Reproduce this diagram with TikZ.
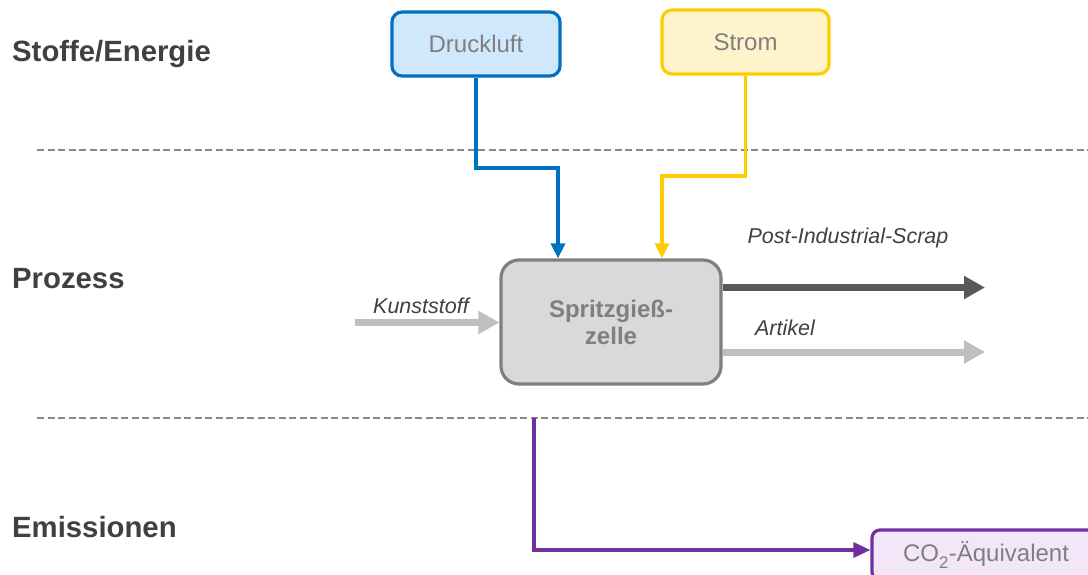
\documentclass[tikz,border=0pt]{standalone}
\usepackage{fontspec}
\setmainfont{Liberation Sans}
\usetikzlibrary{arrows.meta}

\definecolor{txtgray}{HTML}{7F7F7F}
\definecolor{txtdark}{HTML}{404040}
\definecolor{sepgray}{HTML}{898989}
\definecolor{airblue}{HTML}{0070C0}
\definecolor{airfill}{HTML}{CFE8FC}
\definecolor{powyellow}{HTML}{FFCC00}
\definecolor{powfill}{HTML}{FFF3CC}
\definecolor{procfill}{HTML}{D9D9D9}
\definecolor{procline}{HTML}{7F7F7F}
\definecolor{scrapgray}{HTML}{595959}
\definecolor{flowgray}{HTML}{BFBFBF}
\definecolor{emipurple}{HTML}{7030A0}
\definecolor{emifill}{HTML}{F3E6F8}

\tikzset{
  rowlabel/.style={anchor=base west, inner sep=0pt, text=txtdark,
    font=\fontsize{29.3}{33}\selectfont\bfseries},
  flowlabel/.style={inner sep=0pt, text=txtdark,
    font=\fontsize{21.5}{25}\selectfont\itshape},
  inputbox/.style={rectangle, rounded corners=10pt, line width=3.2pt,
    minimum width=168pt, minimum height=64pt, text=txtgray,
    font=\fontsize{24}{28}\selectfont},
  separator/.style={draw=sepgray, line width=2pt, dash pattern=on 7pt off 3.5pt},
  feed/.style={line width=3.4pt, -{Triangle[length=15pt,width=14pt]}},
  bigflow/.style={line width=7pt, -{Triangle[length=21pt,width=22pt]}}
}

\begin{document}
\begin{tikzpicture}[x=1pt,y=-1pt]
\useasboundingbox (0,0) rectangle (1088,575);

% row labels
\node[rowlabel] (lblStoffe) at (12,62) {Stoffe/Energie};
\node[rowlabel] (lblProzess) at (12,288.5) {Prozess};
\node[rowlabel] (lblEmi) at (12,537.5) {Emissionen};

% row separators
\coordinate (sepA0) at (37,150);
\coordinate (sepA1) at (1088,150);
\coordinate (sepB0) at (37,418);
\coordinate (sepB1) at (1088,418);
\draw[separator] (sepA0) -- (sepA1);
\draw[separator] (sepB0) -- (sepB1);

% inputs
\node[inputbox, draw=airblue, fill=airfill] (druck) at (476,44) {Druckluft};
\node[inputbox, draw=powyellow, fill=powfill, minimum width=167pt] (strom) at (745.5,42) {Strom};

% process cell
\node[rectangle, rounded corners=18pt, line width=3.2pt, draw=procline, fill=procfill,
      minimum width=220pt, minimum height=124pt, text=txtgray, align=center,
      font=\fontsize{24}{27}\selectfont\bfseries] (proc) at (611,322)
      {Spritzgieß-\\zelle};

% emission target
\node[rectangle, rounded corners=8pt, line width=3.2pt, draw=emipurple, fill=emifill,
      minimum width=228pt, minimum height=50pt, text=txtgray,
      font=\fontsize{24}{28}\selectfont] (co2) at (986,555)
      {CO\raisebox{-0.3ex}{\textsubscript{2}}-Äquivalent};

% supply lines into the cell
\coordinate (airBend) at (558,168);
\coordinate (powBend) at (662,176);
\draw[feed, draw=airblue] (druck.south) |- (airBend) -- (airBend |- proc.north);
\draw[feed, draw=powyellow] (strom.south) |- (powBend) -- (powBend |- proc.north);

% material flows
\coordinate (kunstIn) at (355,322.5);
\coordinate (scrapOut) at (985,287.5);
\coordinate (artOut) at (985,352);
\draw[bigflow, draw=flowgray] (kunstIn) -- (kunstIn -| proc.west);
\draw[bigflow, draw=scrapgray] (scrapOut -| proc.east) -- (scrapOut);
\draw[bigflow, draw=flowgray] (artOut -| proc.east) -- (artOut);

\node[flowlabel] (lblKunst) at (421,306) {Kunststoff};
\node[flowlabel] (lblScrap) at (848,238) {Post-Industrial-Scrap};
\node[flowlabel] (lblArt) at (785,328) {Artikel};

% emissions
\coordinate (emiStart) at (534,418);
\draw[line width=3.4pt, draw=emipurple, -{Triangle[length=17pt,width=15pt]}]
  (emiStart) |- ([yshift=5pt]co2.west);
\end{tikzpicture}
\end{document}
